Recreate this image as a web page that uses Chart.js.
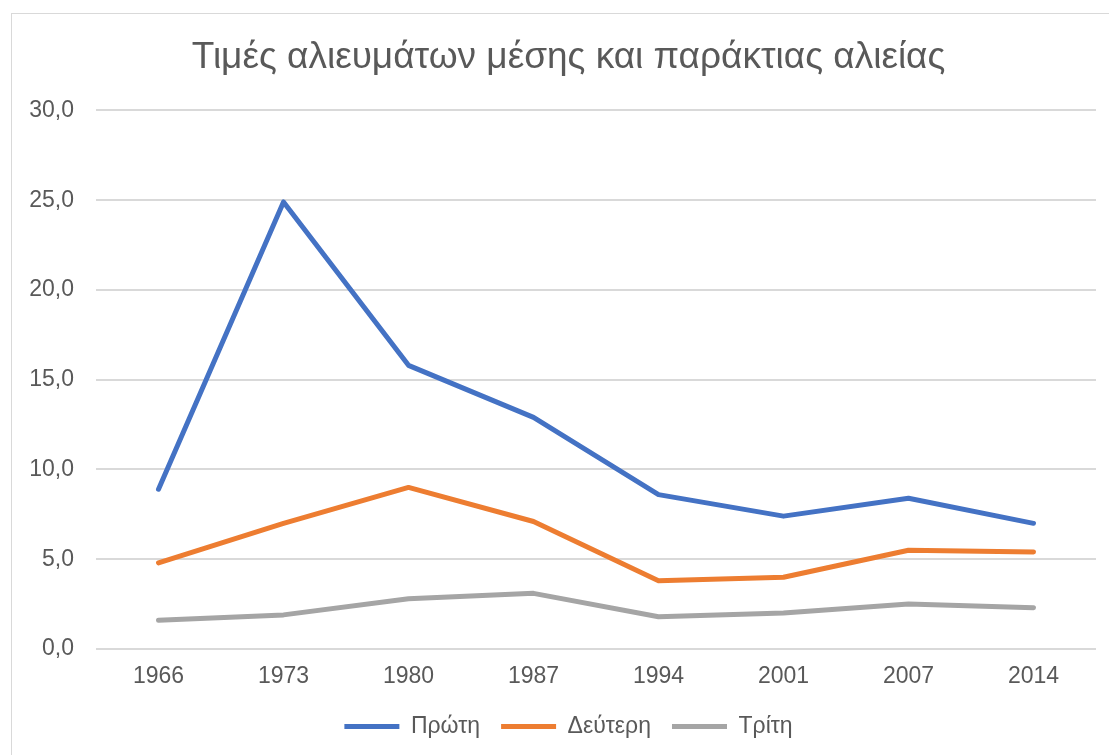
<!DOCTYPE html>
<html>
<head>
<meta charset="utf-8">
<script src="https://cdn.jsdelivr.net/npm/chart.js@4/dist/chart.umd.min.js"></script>
<style>
  html, body { margin: 0; padding: 0; background: #fff; }
  #wrap { position: relative; width: 1109px; height: 755px; }
</style>
</head>
<body>
<div id="wrap"><canvas id="chart"></canvas></div>
<script>
// --- data ---
const years = ['1966', '1973', '1980', '1987', '1994', '2001', '2007', '2014'];
const proti = [8.9, 24.9, 15.8, 12.9, 8.6, 7.4, 8.4, 7.0];
const defteri = [4.8, 7.0, 9.0, 7.1, 3.8, 4.0, 5.5, 5.4];
const triti = [1.6, 1.9, 2.8, 3.1, 1.8, 2.0, 2.5, 2.3];
const seriesNames = ['Πρώτη', 'Δεύτερη', 'Τρίτη'];

const textColor = '#595959';
const gridColor = '#d9d9d9';
const fontFamily = '"Liberation Sans", Arial, sans-serif';

// light frame around the chart like the office export
const framePlugin = {
    id: 'frame',
    beforeDraw(chart) {
        const ctx = chart.ctx;
        ctx.save();
        ctx.strokeStyle = '#d9d9d9';
        ctx.lineWidth = 1;
        ctx.strokeRect(11.5, 13.5, chart.width, chart.height);
        ctx.restore();
    }
};

function makeSet(label, data, color) {
    return {
        label: label,
        data: data,
        borderColor: color,
        backgroundColor: color,
        borderWidth: 5,
        borderCapStyle: 'round',
        borderJoinStyle: 'round',
        pointRadius: 0,
        pointHoverRadius: 0,
        tension: 0,
        fill: false
    };
}

new Chart(document.getElementById('chart'), {
    type: 'line',
    data: {
        labels: years,
        datasets: [
            makeSet(seriesNames[0], proti, '#4472c4'),
            makeSet(seriesNames[1], defteri, '#ed7d31'),
            makeSet(seriesNames[2], triti, '#a5a5a5')
        ]
    },
    plugins: [framePlugin],
    options: {
        responsive: true,
        maintainAspectRatio: false,
        animation: false,
        layout: { padding: { left: 28, right: 0, top: 13, bottom: 7 } },
        plugins: {
            title: {
                display: true,
                text: 'Τιμές αλιευμάτων μέσης και παράκτιας αλιείας',
                color: textColor,
                font: { family: fontFamily, size: 37, weight: 'normal' },
                padding: { top: 23, bottom: 30 }
            },
            legend: {
                position: 'bottom',
                labels: {
                    color: textColor,
                    font: { family: fontFamily, size: 23 },
                    usePointStyle: true,
                    pointStyle: 'line',
                    pointStyleWidth: 55,
                    padding: 21
                }
            },
            tooltip: { enabled: false }
        },
        scales: {
            x: {
                offset: true,
                afterFit(scale) { scale.height = 45; },
                grid: { display: false },
                border: { display: false },
                ticks: {
                    color: textColor,
                    font: { family: fontFamily, size: 23 },
                    padding: 6,
                    maxRotation: 0
                }
            },
            y: {
                min: 0,
                max: 30,
                afterFit(scale) { scale.width = 68; },
                grid: { color: gridColor, lineWidth: 2, drawTicks: false },
                border: { display: false },
                ticks: {
                    stepSize: 5,
                    color: textColor,
                    font: { family: fontFamily, size: 23 },
                    padding: 22,
                    callback: v => v.toFixed(1).replace('.', ',')
                }
            },
            // empty spacer on the right so the plot ends where the reference does
            spacer: {
                position: 'right',
                display: true,
                afterFit(scale) { scale.width = 13; },
                grid: { display: false },
                border: { display: false },
                ticks: { display: false }
            }
        }
    }
});
</script>
</body>
</html>
